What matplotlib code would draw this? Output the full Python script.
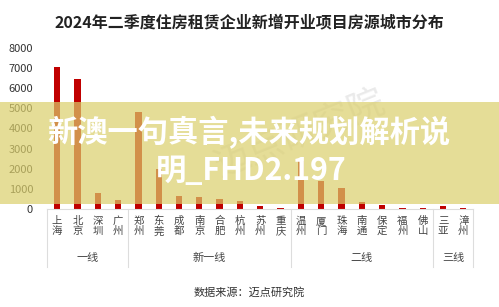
import matplotlib
matplotlib.use("Agg")
import matplotlib.pyplot as plt
from matplotlib.transforms import blended_transform_factory
from matplotlib.patches import Rectangle
from matplotlib.lines import Line2D

plt.rcParams['font.family'] = ['Noto Sans CJK SC', 'DejaVu Sans']

title = "2024年二季度住房租赁企业新增开业项目房源城市分布"
cities = ["上海", "北京", "深圳", "广州",
          "郑州", "东莞", "成都", "南京", "合肥", "杭州", "苏州", "重庆",
          "温州", "厦门", "珠海", "南通", "保定", "福州", "佛山",
          "三亚", "漳州"]
values = [7050, 6450, 810, 430,
          4800, 1980, 650, 580, 480, 410, 160, 60,
          2400, 1370, 1030, 360, 200, 70, 70,
          150, 60]
groups = ["一线", "新一线", "二线", "三线"]
group_sizes = [4, 8, 7, 2]
yticks = [0, 1000, 2000, 3000, 4000, 5000, 6000, 7000, 8000]
source = "数据来源：迈点研究院"
banner_lines = ["新澳一句真言,未来规划解析说", "明_FHD2.197"]

W, H = 499, 307
fig = plt.figure(figsize=(W / 100, H / 100), dpi=100)
fig.patch.set_facecolor("white")

ax_l, ax_r, ax_t, ax_b = 47, 473.5, 48, 209
ax = fig.add_axes([ax_l / W, 1 - ax_b / H, (ax_r - ax_l) / W, (ax_b - ax_t) / H])

x = list(range(len(cities)))
ax.bar(x, values, width=0.31, color="#c00000", zorder=2)
ax.set_xlim(-0.5, len(cities) - 0.5)
ax.set_ylim(0, 8000)
ax.set_yticks(yticks)
ax.set_yticklabels([str(v) for v in yticks], fontsize=8, color="#333333")
ax.tick_params(axis="y", length=0, pad=10)
ax.set_xticks(x)
ax.set_xticklabels(["\n".join(c) for c in cities], fontsize=7.5, color="#444444",
                   linespacing=1.0)
ax.tick_params(axis="x", length=0, pad=5)
for s in ["top", "right", "left"]:
    ax.spines[s].set_visible(False)
ax.spines["bottom"].set_color("#dddddd")
ax.spines["bottom"].set_linewidth(0.8)

trans = blended_transform_factory(ax.transData, ax.transAxes)
h_ax = ax_b - ax_t
bounds = [-0.5]
acc = 0
for g in group_sizes:
    acc += g
    bounds.append(acc - 0.5)
for b in bounds:
    ax.add_line(Line2D([b, b], [0, -58 / h_ax], transform=trans, color="#dddddd",
                       lw=0.8, clip_on=False))
for i, g in enumerate(groups):
    cx = (bounds[i] + bounds[i + 1]) / 2
    ax.text(cx, -49 / h_ax, g, transform=trans, ha="center", va="center",
            fontsize=8, color="#444444")

fig.text(249 / W, 1 - 22 / H, title, ha="center", va="center", fontsize=11.5,
         fontweight="bold", color="#222222")
fig.text(249 / W, 1 - 292 / H, source, ha="center", va="center", fontsize=8,
         color="#333333")

# faint watermark
fig.text(300 / W, 1 - 135 / H, "迈点研究院", ha="center", va="center", fontsize=26,
         rotation=22, color="#bbbbbb", alpha=0.3, zorder=5)

# banner overlay
fig.patches.append(Rectangle((0, 1 - 204 / H), 1, 102 / H, transform=fig.transFigure,
                             facecolor=(0.86, 0.81, 0.42), alpha=0.7, edgecolor="none",
                             zorder=10))
fig.text(249 / W, 1 - 133 / H, banner_lines[0], ha="center", va="center", fontsize=21.8,
         fontweight="bold", color="white", zorder=11)
fig.text(251 / W, 1 - 171 / H, banner_lines[1], ha="center", va="center", fontsize=21.8,
         fontweight="bold", color="white", zorder=11)

fig.savefig("out.png", dpi=100)
